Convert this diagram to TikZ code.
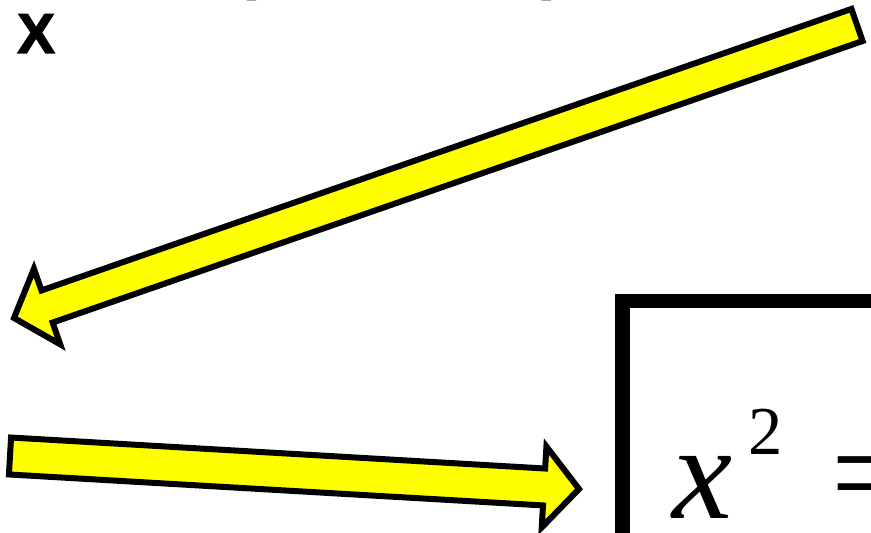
\documentclass[tikz,border=0pt]{standalone}
\usepackage{fontspec}
\usepackage{tikz}
\usetikzlibrary{calc}
\newfontfamily\timesfont{Liberation Serif}
\newfontfamily\arialfont[BoldFeatures={FakeBold=2.5}]{Liberation Sans}
\definecolor{hiyellow}{HTML}{FFFF00}
\tikzset{
  fatarrow/.style={
    draw=black,
    fill=hiyellow,
    line width=0.12cm,
    line join=miter
  },
  framebox/.style={
    draw=black,
    line width=0.3cm,
    line join=miter
  },
  labeltext/.style={
    anchor=base west,
    inner sep=0pt,
    font=\arialfont\bfseries\fontsize{32}{34}\selectfont
  },
  mathtext/.style={
    anchor=base west,
    inner sep=0pt,
    font=\timesfont\fontsize{77}{80}\selectfont
  }
}
% #1 tail, #2 tip, #3 shaft half width, #4 head half width, #5 head length
\newcommand{\yellowarrow}[5]{%
  \coordinate (#2-base) at ($(#2)!#5!(#1)$);
  \draw[fatarrow] ($(#1)!#3!90:(#2)$) -- ($(#2-base)!#3!90:(#2)$)
    -- ($(#2-base)!#4!90:(#2)$) -- (#2) -- ($(#2-base)!#4!-90:(#2)$)
    -- ($(#2-base)!#3!-90:(#2)$) -- ($(#1)!#3!-90:(#2)$) -- cycle;
}

\begin{document}
\begin{tikzpicture}[x=0.02cm,y=-0.02cm]
    \useasboundingbox (0,0) rectangle (871,533);

    \node[labeltext] (parens) at (236,-12) {(\hspace{5.75cm})};
    \node[labeltext] (xlabel) at (17,53) {X};

    \coordinate (tailA) at (857,25);
    \coordinate (tipA) at (14,318);
    \yellowarrow{tailA}{tipA}{0.34cm}{0.8cm}{0.7cm}

    \coordinate (tailB) at (10,456);
    \coordinate (tipB) at (579,489);
    \yellowarrow{tailB}{tipB}{0.37cm}{0.81cm}{0.7cm}

    \draw[framebox] (622,301) rectangle (960,620);
    \node[mathtext] (equation) at (672,518)
        {\itshape x\kern0.32cm\raisebox{36pt}{\fontsize{39}{40}\selectfont\upshape 2}\hspace{0.98cm}\upshape =};
\end{tikzpicture}
\end{document}
